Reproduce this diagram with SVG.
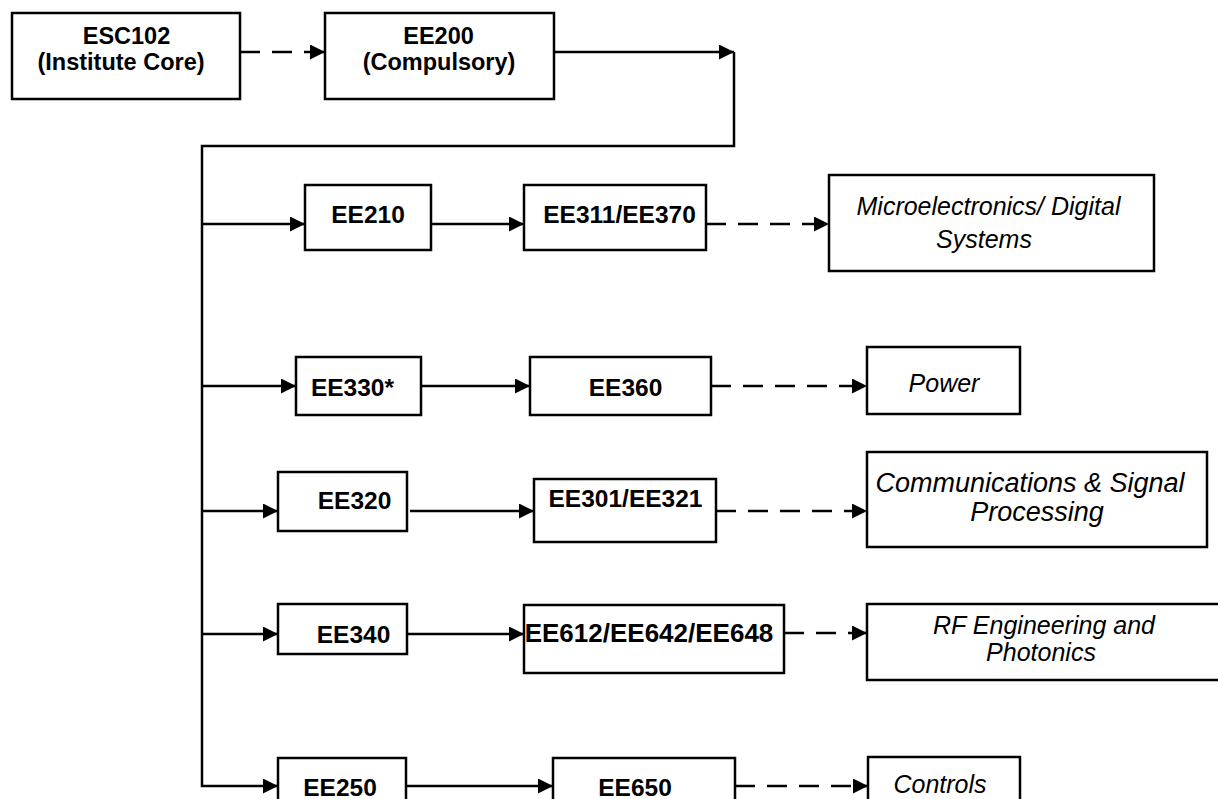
<svg xmlns="http://www.w3.org/2000/svg" width="1218" height="799" viewBox="0 0 1218 799">
<defs>
<style>
.box{fill:#fff;stroke:#000;stroke-width:2.5}
.ln{fill:none;stroke:#000;stroke-width:2.5}
.dash{stroke-dasharray:20 12}
.b{font-family:"Liberation Sans",Arial,sans-serif;font-weight:bold;font-size:24.5px;text-anchor:middle;fill:#000}
.t{font-size:23.5px}
.i{font-family:"Liberation Sans",Arial,sans-serif;font-style:italic;font-size:25px;text-anchor:middle;fill:#000}
</style>
<marker id="ah" markerUnits="userSpaceOnUse" markerWidth="15" markerHeight="15" viewBox="0 0 14 14" refX="14" refY="7" orient="auto">
<path d="M0,0 L14,7 L0,14 z" fill="#000" stroke="none"/>
</marker>
</defs>
<rect width="1218" height="799" fill="#fff"/>
<g id="connectors">
<path class="ln dash" d="M240,52 H325" marker-end="url(#ah)"/>
<path class="ln" d="M554,52 H734" marker-end="url(#ah)"/>
<path class="ln" d="M734,52 V146 H202 V786 H278" marker-end="url(#ah)"/>
<path class="ln" d="M202,224 H305" marker-end="url(#ah)"/>
<path class="ln" d="M202,386 H296" marker-end="url(#ah)"/>
<path class="ln" d="M202,511 H278" marker-end="url(#ah)"/>
<path class="ln" d="M202,634 H278" marker-end="url(#ah)"/>
<path class="ln" d="M431,224 H524" marker-end="url(#ah)"/>
<path class="ln" d="M421,386 H530" marker-end="url(#ah)"/>
<path class="ln" d="M410,511 H534" marker-end="url(#ah)"/>
<path class="ln" d="M402,634 H524" marker-end="url(#ah)"/>
<path class="ln" d="M402,786 H553" marker-end="url(#ah)"/>
<path class="ln dash" d="M706,224 H829" marker-end="url(#ah)"/>
<path class="ln dash" d="M711,386 H867" marker-end="url(#ah)"/>
<path class="ln dash" d="M716,511 H867" marker-end="url(#ah)"/>
<path class="ln dash" d="M784,633 H867" marker-end="url(#ah)"/>
<path class="ln dash" d="M735,786 H868" marker-end="url(#ah)"/>
</g>
<g id="esc102"><rect class="box" x="12" y="13" width="228" height="86"/><text class="b t" x="126.5" y="43.5">ESC102</text><text class="b t" x="121" y="70">(Institute Core)</text></g>
<g id="ee200"><rect class="box" x="325" y="13" width="229" height="86"/><text class="b t" x="438.5" y="43.5">EE200</text><text class="b t" x="439" y="70">(Compulsory)</text></g>
<g id="ee210"><rect class="box" x="305" y="185" width="126" height="65"/><text class="b" x="368" y="223">EE210</text></g>
<g id="ee311"><rect class="box" x="524" y="185" width="182" height="65"/><text class="b" x="619.5" y="223">EE311/EE370</text></g>
<g id="micro"><rect class="box" x="829" y="175" width="325" height="96"/><text class="i" x="988.5" y="215">Microelectronics/ Digital</text><text class="i" x="984" y="248">Systems</text></g>
<g id="ee330"><rect class="box" x="296" y="357" width="125" height="58"/><text class="b" x="352.5" y="396">EE330*</text></g>
<g id="ee360"><rect class="box" x="530" y="357" width="181" height="58"/><text class="b" x="625.5" y="396">EE360</text></g>
<g id="power"><rect class="box" x="867" y="347" width="153" height="67"/><text class="i" x="944" y="392">Power</text></g>
<g id="ee320"><rect class="box" x="278" y="472" width="129" height="59"/><text class="b" x="354.5" y="509">EE320</text></g>
<g id="ee301"><rect class="box" x="534" y="479" width="182" height="63"/><text class="b" x="625.5" y="507">EE301/EE321</text></g>
<g id="comms"><rect class="box" x="867" y="452" width="340" height="95"/><text class="i" x="1030" y="492" style="font-size:27px">Communications &amp; Signal</text><text class="i" x="1037" y="521" style="font-size:27px">Processing</text></g>
<g id="ee340"><rect class="box" x="278" y="604" width="129" height="50"/><text class="b" x="353.5" y="643">EE340</text></g>
<g id="ee612"><rect class="box" x="524" y="605" width="260" height="68"/><text class="b" x="649" y="642" style="font-size:26px">EE612/EE642/EE648</text></g>
<g id="rf"><rect class="box" x="867" y="604" width="400" height="76"/><text class="i" x="1044" y="634">RF Engineering and</text><text class="i" x="1041" y="661">Photonics</text></g>
<g id="ee250"><rect class="box" x="278" y="758" width="128" height="60"/><text class="b" x="340" y="796">EE250</text></g>
<g id="ee650"><rect class="box" x="553" y="758" width="182" height="60"/><text class="b" x="635" y="796">EE650</text></g>
<g id="controls"><rect class="box" x="868" y="757" width="152" height="60"/><text class="i" x="940" y="793">Controls</text></g>
</svg>
